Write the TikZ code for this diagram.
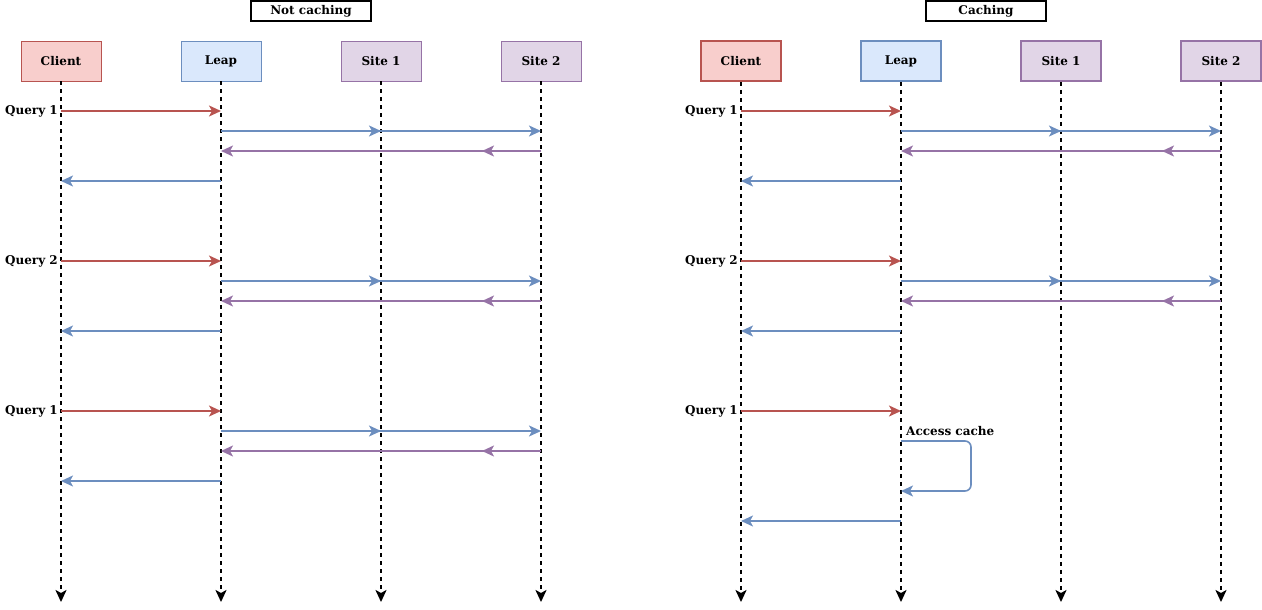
\documentclass[tikz,border=0pt]{standalone}
\usepackage{fontspec}
\setmainfont{DejaVu Serif}
\usetikzlibrary{arrows.meta}
\definecolor{rd}{HTML}{B85450}\definecolor{rdf}{HTML}{F8CECC}
\definecolor{bl}{HTML}{6C8EBF}\definecolor{blf}{HTML}{DAE8FC}
\definecolor{pu}{HTML}{9673A6}\definecolor{puf}{HTML}{E1D5E7}
\begin{document}
\begin{tikzpicture}[x=1pt,y=-1pt,
  font=\fontsize{12}{14}\selectfont\bfseries,
  actor/.style={minimum width=80pt,minimum height=40pt,inner sep=0pt},
  thinb/.style={line width=0.8pt},
  thickb/.style={line width=1.8pt},
  titlebox/.style={draw=black,line width=1.6pt,minimum width=120pt,minimum height=20pt,inner sep=0pt},
  life/.style={line width=2pt,dash pattern=on 4pt off 4pt,-{Stealth[length=12pt,width=11pt,inset=3pt]}},
  msg/.style={line width=1.6pt,-{Stealth[length=12pt,width=11pt,inset=3pt]}},
  qlab/.style={anchor=east,inner sep=3pt}]
\useasboundingbox (0,0) rectangle (1262,610);
% titles
\node[titlebox] (t1) at (311,11) {Not caching};
\node[titlebox] (t2) at (986,11) {Caching};
% left panel actors
\node[actor,thinb,draw=rd,fill=rdf] (c1) at (61,61) {Client};
\node[actor,thinb,draw=bl,fill=blf] (l1) at (221,61) {Leap};
\node[actor,thinb,draw=pu,fill=puf] (a1) at (381,61) {Site 1};
\node[actor,thinb,draw=pu,fill=puf] (b1) at (541,61) {Site 2};
% right panel actors
\node[actor,thickb,draw=rd,fill=rdf] (c2) at (741,61) {Client};
\node[actor,thickb,draw=bl,fill=blf] (l2) at (901,61) {Leap};
\node[actor,thickb,draw=pu,fill=puf] (a2) at (1061,61) {Site 1};
\node[actor,thickb,draw=pu,fill=puf] (b2) at (1221,61) {Site 2};
% lifelines
\foreach \n in {c1,l1,a1,b1,c2,l2,a2,b2}{
  \coordinate (\n E) at (\n.south |- 0,602);
  \draw[life] (\n.south) -- (\n E);
}
% mid arrowhead tips for the purple returns
\coordinate (m1) at (482,0);
\coordinate (m2) at (1162,0);
% ---------- left panel ----------
\foreach \y/\q in {111/Query 1,261/Query 2,411/Query 1}{
  \node[qlab] (q1\y) at (c1 |- 0,\y) {\q};
  \draw[msg,rd] (c1 |- 0,\y) -- (l1 |- 0,\y);
  \draw[msg,bl] (l1 |- 0,\y+20) -- (a1 |- 0,\y+20);
  \draw[msg,bl] (l1 |- 0,\y+20) -- (b1 |- 0,\y+20);
  \draw[msg,pu] (b1 |- 0,\y+40) -- (l1 |- 0,\y+40);
  \draw[msg,pu] (b1 |- 0,\y+40) -- (m1 |- 0,\y+40);
  \draw[msg,bl] (l1 |- 0,\y+70) -- (c1 |- 0,\y+70);
}
% ---------- right panel ----------
\foreach \y/\q in {111/Query 1,261/Query 2}{
  \node[qlab] (q2\y) at (c2 |- 0,\y) {\q};
  \draw[msg,rd] (c2 |- 0,\y) -- (l2 |- 0,\y);
  \draw[msg,bl] (l2 |- 0,\y+20) -- (a2 |- 0,\y+20);
  \draw[msg,bl] (l2 |- 0,\y+20) -- (b2 |- 0,\y+20);
  \draw[msg,pu] (b2 |- 0,\y+40) -- (l2 |- 0,\y+40);
  \draw[msg,pu] (b2 |- 0,\y+40) -- (m2 |- 0,\y+40);
  \draw[msg,bl] (l2 |- 0,\y+70) -- (c2 |- 0,\y+70);
}
\node[qlab] (q2411) at (c2 |- 0,411) {Query 1};
\draw[msg,rd] (c2 |- 0,411) -- (l2 |- 0,411);
\node[anchor=west,inner sep=2pt] (ac) at (904,431) {Access cache};
\coordinate (lp) at (971,0);
\draw[msg,bl,rounded corners=6pt] (l2 |- 0,441) -- (lp |- 0,441) -- (lp |- 0,491) -- (l2 |- 0,491);
\draw[msg,bl] (l2 |- 0,521) -- (c2 |- 0,521);
\end{tikzpicture}
\end{document}
